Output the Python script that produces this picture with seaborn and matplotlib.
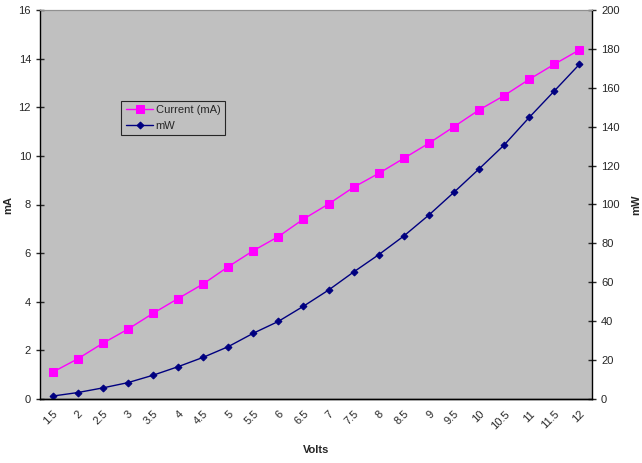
import matplotlib
matplotlib.use("Agg")
import matplotlib.pyplot as plt
from matplotlib.ticker import FixedLocator, MultipleLocator
import numpy as np
import pandas as pd
import seaborn as sns

volts = ["1.5", "2", "2.5", "3", "3.5", "4", "4.5", "5", "5.5", "6", "6.5",
         "7", "7.5", "8", "8.5", "9", "9.5", "10", "10.5", "11", "11.5", "12"]
current_ma = [1.1, 1.65, 2.29, 2.87, 3.52, 4.13, 4.73, 5.44, 6.10, 6.68, 7.40,
              8.02, 8.71, 9.28, 9.90, 10.52, 11.20, 11.89, 12.48, 13.15, 13.77, 14.36]
power_mw = [1.5, 3.3, 5.7, 8.4, 12.2, 16.6, 21.4, 26.9, 33.8, 39.9, 47.7,
            56.0, 65.3, 74.2, 83.8, 94.6, 106.3, 118.3, 130.6, 144.8, 158.4, 172.1]

df = pd.DataFrame({"idx": np.arange(len(volts)), "volts": volts,
                   "current": current_ma, "mw": power_mw})

sns.set_style("white")
plt.rcParams["font.family"] = ["Liberation Sans", "DejaVu Sans"]

fig = plt.figure(figsize=(6.42, 4.63), dpi=100)
ax = fig.add_axes([40 / 642, 64 / 463, 552 / 642, 389 / 463])
ax.set_facecolor("#C0C0C0")
ax2 = ax.twinx()

sns.lineplot(data=df, x="idx", y="current", ax=ax, color="#FF00FF", marker="s",
             markersize=5.5, markeredgecolor="#FF00FF", linewidth=1,
             label="Current (mA)", legend=False)
sns.lineplot(data=df, x="idx", y="mw", ax=ax2, color="#000080", marker="D",
             markersize=3.5, markeredgecolor="#000080", linewidth=1,
             label="mW", legend=False)

ax.set_xlim(-0.5, len(volts) - 0.5)
ax.set_ylim(0, 16)
ax2.set_ylim(0, 200)
ax.yaxis.set_major_locator(MultipleLocator(2))
ax2.yaxis.set_major_locator(MultipleLocator(20))

ax.set_xticks(df["idx"])
ax.set_xticklabels(volts, rotation=45, ha="right", va="top", rotation_mode="anchor")
ax.xaxis.set_minor_locator(FixedLocator(np.arange(-0.5, len(volts), 1.0)))
ax.tick_params(axis="x", which="major", length=0, labelsize=8, pad=7)
ax.tick_params(axis="x", which="minor", length=5, direction="inout", width=1)
ax.tick_params(axis="y", length=6, direction="inout", width=1, labelsize=8, left=True)
ax2.tick_params(axis="y", length=6, direction="inout", width=1, labelsize=8, right=True)

for a in (ax, ax2):
    for s in ("left", "right", "bottom"):
        a.spines[s].set_color("black")
        a.spines[s].set_linewidth(1)
    a.spines["top"].set_color("#909090")
    a.spines["top"].set_linewidth(0.8)
ax.spines["right"].set_visible(False)
ax2.spines["left"].set_visible(False)

ax.set_xlabel("Volts", fontsize=8, fontweight="bold", labelpad=10)
ax.set_ylabel("mA", fontsize=8, fontweight="bold", labelpad=4)
ax2.set_ylabel("mW", fontsize=8, fontweight="bold", rotation=90, labelpad=8)

h1, l1 = ax.get_legend_handles_labels()
h2, l2 = ax2.get_legend_handles_labels()
leg = ax2.legend(h1 + h2, l1 + l2, loc="upper left", bbox_to_anchor=(0.137, 0.781),
                 fontsize=8, frameon=True, fancybox=False, facecolor="#C0C0C0",
                 edgecolor="black", borderpad=0.4, labelspacing=0.5,
                 handlelength=2.5, handletextpad=0.2)
leg.get_frame().set_linewidth(0.8)

fig.savefig("out.png", dpi=100)
